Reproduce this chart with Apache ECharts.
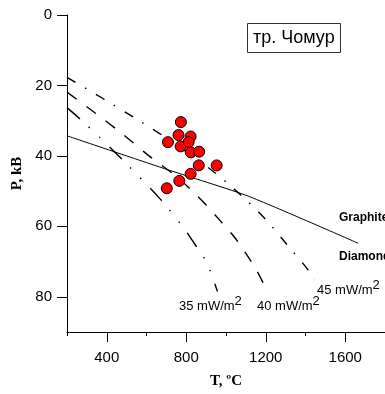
<!DOCTYPE html>
<html><head><meta charset="utf-8">
<script src="https://cdn.jsdelivr.net/npm/echarts@6/dist/echarts.min.js"></script>
<style>html,body{margin:0;padding:0;background:#fff}#c{width:385px;height:394px}</style>
</head><body><div id="c"></div>
<script>
// Data (T in °C, P in kB)
const samplesT = [773, 761, 822, 708, 772, 812, 823, 865, 863, 953, 822, 765, 702];
const samplesP = [30.4, 34.1, 34.5, 36.1, 37.3, 36.1, 39.0, 38.8, 42.7, 42.7, 45.1, 47.1, 49.2];

const graphiteT = [200, 700, 1115, 1665];
const graphiteP = [34.3, 43.8, 51.5, 64.8];

const geo45T = [200, 392, 534, 675, 915, 1074, 1199, 1307, 1415, 1445];
const geo45P = [17.7, 24.1, 29.0, 34.0, 43.5, 51.1, 58.0, 65.2, 72.5, 75.2];

const geo40T = [200, 325, 484, 617, 740, 824, 899, 974, 1040, 1099, 1157, 1199];
const geo40P = [21.9, 27.1, 34.0, 40.2, 45.4, 49.6, 53.9, 58.6, 62.9, 67.6, 72.8, 77.5];

const geo35T = [200, 267, 364, 472, 665, 782, 840, 904, 957];
const geo35P = [26.3, 29.6, 34.7, 40.7, 52.0, 60.1, 64.8, 70.4, 78.5];

const xMajorTicks = [400, 800, 1200, 1600];
const yTicks = [0, 20, 40, 60, 80];

const zip = (a, b) => a.map((v, i) => [v, b[i]]);
const sans = 'Liberation Sans, Arial, sans-serif';
const serif = 'Liberation Serif, Times New Roman, serif';

const chart = echarts.init(document.getElementById('c'));
const gridRect = {left: 67, top: 15, width: 320, height: 318};
const supRich = {
  a: {fontFamily: sans, fontSize: 13, fill: '#000', verticalAlign: 'bottom'},
  s: {fontFamily: sans, fontSize: 13, fill: '#000', padding: [0, 0, 5, 0], verticalAlign: 'bottom'}
};
chart.setOption({
  animation: false,
  title: {
    text: 'тр. Чомур', left: 247, top: 23,
    borderColor: '#333', borderWidth: 1, padding: [5, 6],
    textStyle: {fontFamily: sans, fontSize: 18, lineHeight: 20, fontWeight: 'normal', color: '#000'}
  },
  grid: [Object.assign({}, gridRect), Object.assign({}, gridRect)],
  xAxis: [{
    type: 'value', gridIndex: 0, min: 200, max: 1800, interval: 200,
    name: 'T, ºC', nameLocation: 'middle', nameGap: 42,
    nameTextStyle: {fontFamily: serif, fontWeight: 'bold', fontSize: 15, color: '#000'},
    axisLine: {onZero: false, lineStyle: {color: '#000', width: 1}},
    axisTick: {length: 4, lineStyle: {color: '#000'}},
    axisLabel: {customValues: xMajorTicks, margin: 18, fontFamily: sans, fontSize: 15, color: '#000',
      formatter: v => String(v)},
    splitLine: {show: false}
  }, {
    type: 'value', gridIndex: 1, min: 200, max: 1800, position: 'bottom',
    axisLine: {show: false, onZero: false},
    axisTick: {customValues: xMajorTicks, length: 9, lineStyle: {color: '#000'}},
    axisLabel: {show: false}, splitLine: {show: false}
  }],
  yAxis: [{
    type: 'value', gridIndex: 0, min: 0, max: 90, inverse: true,
    name: 'P, kB', nameLocation: 'middle', nameGap: 42,
    nameTextStyle: {fontFamily: serif, fontWeight: 'bold', fontSize: 15, color: '#000'},
    axisLine: {show: true, onZero: false, lineStyle: {color: '#000', width: 1}},
    axisTick: {show: true, customValues: yTicks, length: 10, lineStyle: {color: '#000'}},
    axisLabel: {customValues: yTicks, margin: 15, fontFamily: sans, fontSize: 15, color: '#000'},
    splitLine: {show: false}
  }, {
    type: 'value', gridIndex: 1, min: 0, max: 90, inverse: true, show: false
  }],
  series: [
    {type: 'line', data: zip(graphiteT, graphiteP), showSymbol: false, smooth: 0.2,
     lineStyle: {color: '#000', width: 1}, z: 2},
    {type: 'line', data: zip(geo45T, geo45P), showSymbol: false, smooth: 0.3,
     lineStyle: {color: '#000', width: 1.4, type: [10, 11, 1.5, 11]}, z: 2},
    {type: 'line', data: zip(geo40T, geo40P), showSymbol: false, smooth: 0.3,
     lineStyle: {color: '#000', width: 1.4, type: [12, 12]}, z: 2},
    {type: 'line', data: zip(geo35T, geo35P), showSymbol: false, smooth: 0.3,
     lineStyle: {color: '#000', width: 1.4, type: [17, 12, 1.5, 13, 1.5, 13]}, z: 2},
    {type: 'scatter', data: zip(samplesT, samplesP), symbolSize: 11,
     itemStyle: {color: '#ff0000', borderColor: '#000', borderWidth: 1, opacity: 1}, z: 5}
  ],
  graphic: [
    {type: 'text', left: 339, top: 212, style: {text: 'Graphite', font: 'bold 12px ' + sans, fill: '#000'}},
    {type: 'text', left: 339, top: 251, style: {text: 'Diamond', font: 'bold 12px ' + sans, fill: '#000'}},
    {type: 'text', left: 317, top: 279, style: {text: '{a|45 mW/m}{s|2}', rich: supRich}},
    {type: 'text', left: 179, top: 295, style: {text: '{a|35 mW/m}{s|2}', rich: supRich}},
    {type: 'text', left: 257, top: 295, style: {text: '{a|40 mW/m}{s|2}', rich: supRich}}
  ]
});
</script></body></html>
